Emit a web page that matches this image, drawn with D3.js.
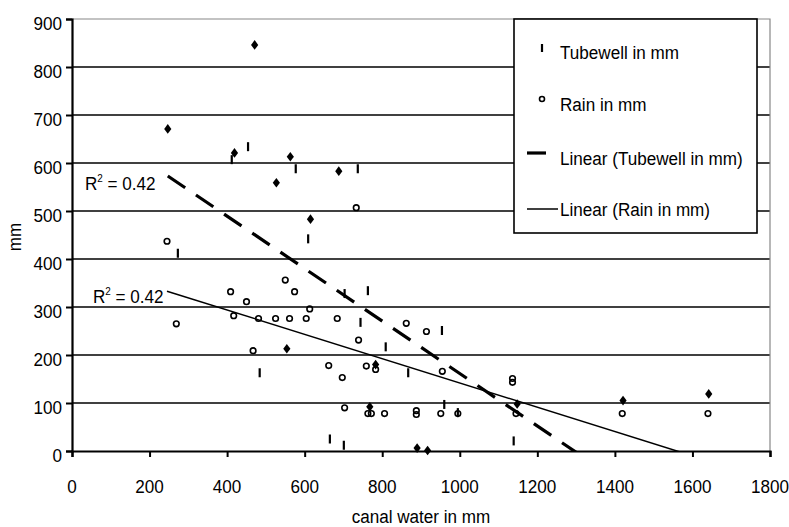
<!DOCTYPE html>
<html><head><meta charset="utf-8">
<script src="https://cdn.jsdelivr.net/npm/d3@7/dist/d3.min.js"></script>
<style>
body{margin:0;background:#fff}
svg text{font-family:"Liberation Sans",Arial,sans-serif;fill:#000}
</style></head>
<body><svg id="chart" width="789" height="527"></svg>
<script>
// ---- data ----
const xTicks = [0,200,400,600,800,1000,1200,1400,1600,1800];
const yTicks = [0,100,200,300,400,500,600,700,800,900];

const tubewellX = [273,412,454,577,609,703,737,763,744,809,867,954,960,995,484,665,701,1139];
const tubewellY = [412,607,634,588,442,328,588,334,268,217,163,251,97,80,163,25,12,21];

const rainX = [245,269,409,450,417,481,525,561,604,550,574,613,684,733,467,739,862,914,955,662,697,759,783,703,763,772,806,888,888,951,995,1136,1136,1145,1419,1640];
const rainY = [437,265,332,311,282,276,276,276,276,356,332,296,276,507,209,231,266,249,166,178,153,177,170,90,78,78,78,84,76,78,78,151,143,78,78,78];

const otherX = [471,247,419,563,527,688,615,554,783,768,890,917,1148,1421,1642];
const otherY = [846,671,621,613,559,583,483,213,180,92,6,1,98,105,119];

const trendSlope = [-0.5466,-0.2532];      // Tubewell, Rain
const trendIntercept = [708,395];
const trendXMin = [247,245];
const trendXMax = [1642,1642];
const r2Labels = ["0.42","0.42"];

const legendLabels = ["Tubewell in mm","Rain in mm","Linear (Tubewell in mm)","Linear (Rain in mm)"];
const xTitle = "canal water in mm";
const yTitle = "mm";

// ---- drawing ----
const svg = d3.select("#chart");
const L = 72, R = 770, T = 19, B = 451;
const x = d3.scaleLinear().domain([0,1800]).range([L,R]);
const y = d3.scaleLinear().domain([0,900]).range([B,T]);
const SX = 0.9, FS = 19;

function txt(g, px, py, s, anchor, fs){
  return g.append("text")
    .attr("transform", `translate(${px},${py}) scale(${SX},1)`)
    .attr("text-anchor", anchor || "start")
    .attr("font-size", fs || FS)
    .text(s);
}

svg.append("defs").append("clipPath").attr("id","plotclip")
  .append("rect").attr("x",L).attr("y",T).attr("width",R-L).attr("height",B-T);

// gridlines
svg.append("g").selectAll("line").data(yTicks.filter(v=>v>0 && v<900)).join("line")
  .attr("x1",L).attr("x2",R).attr("y1",d=>y(d)).attr("y2",d=>y(d))
  .attr("stroke","#000").attr("stroke-width",1.5);
// plot border (top/right)
svg.append("path").attr("d",`M${L},${y(900)}H${R}V${B}`).attr("fill","none")
  .attr("stroke","#888").attr("stroke-width",1.2);

// axes
const xAxis = d3.axisBottom(x).tickValues(xTicks).tickSize(6).tickFormat("");
const gx = svg.append("g").attr("transform",`translate(0,${B})`).call(xAxis);
gx.select(".domain").attr("stroke","#000").attr("stroke-width",2.2);
gx.selectAll(".tick line").attr("stroke","#000").attr("stroke-width",2);
const yAxis = d3.axisLeft(y).tickValues(yTicks).tickSize(6).tickFormat("");
const gy = svg.append("g").attr("transform",`translate(${L},0)`).call(yAxis);
gy.select(".domain").attr("stroke","#000").attr("stroke-width",2.2);
gy.selectAll(".tick line").attr("stroke","#000").attr("stroke-width",2);

const lab = svg.append("g");
xTicks.forEach(v=>txt(lab, x(v), 493, String(v), "middle"));
yTicks.forEach(v=>txt(lab, 62, y(v)+11, String(v), "end"));
txt(lab, (L+R)/2, 523, xTitle, "middle");
lab.append("text").attr("transform",`translate(21,237) rotate(-90) scale(${SX},1)`)
  .attr("text-anchor","middle").attr("font-size",FS).text(yTitle);

// markers
const mk = svg.append("g");
const diamondPath = "M0,-4.8L3.6,0L0,4.8L-3.6,0Z";
mk.selectAll("path.dia").data(otherX.map((v,i)=>[v,otherY[i]])).join("path")
  .attr("class","dia").attr("d",diamondPath)
  .attr("transform",d=>`translate(${x(d[0])},${y(d[1])})`)
  .attr("fill","#000");
mk.selectAll("circle").data(rainX.map((v,i)=>[v,rainY[i]])).join("circle")
  .attr("cx",d=>x(d[0])).attr("cy",d=>y(d[1])).attr("r",2.8)
  .attr("fill","none").attr("stroke","#000").attr("stroke-width",1.6);
mk.selectAll("line").data(tubewellX.map((v,i)=>[v,tubewellY[i]])).join("line")
  .attr("x1",d=>x(d[0])).attr("x2",d=>x(d[0]))
  .attr("y1",d=>y(d[1])-4.5).attr("y2",d=>y(d[1])+4.5)
  .attr("stroke","#000").attr("stroke-width",2.2);

// trend lines
const tg = svg.append("g").attr("clip-path","url(#plotclip)");
[0,1].forEach(i=>{
  const f = v => trendIntercept[i] + trendSlope[i]*v;
  tg.append("line")
    .attr("x1",x(trendXMin[i])).attr("y1",y(f(trendXMin[i])))
    .attr("x2",x(trendXMax[i])).attr("y2",y(f(trendXMax[i])))
    .attr("stroke","#000")
    .attr("stroke-width", i===0 ? 3.2 : 1.5)
    .attr("stroke-dasharray", i===0 ? "21,13" : null);
});

// R² labels
function r2(px, py, val){
  const t = svg.append("text").attr("transform",`translate(${px},${py}) scale(${SX},1)`).attr("font-size",FS);
  t.append("tspan").text("R");
  t.append("tspan").attr("dy",-8).attr("font-size",11).text("2");
  t.append("tspan").attr("dy",8).text(" = " + val);
}
r2(85, 190, r2Labels[0]);
r2(93, 303, r2Labels[1]);

// legend
const lg = svg.append("g");
lg.append("rect").attr("x",514).attr("y",19).attr("width",243).attr("height",214)
  .attr("fill","#fff").attr("stroke","#000").attr("stroke-width",1.6);
const rowY = [52,104,158,209];
lg.append("line").attr("x1",542).attr("x2",542).attr("y1",rowY[0]-8).attr("y2",rowY[0])
  .attr("stroke","#000").attr("stroke-width",2.2);
lg.append("circle").attr("cx",542).attr("cy",rowY[1]-5).attr("r",2.5)
  .attr("fill","none").attr("stroke","#000").attr("stroke-width",1.6);
lg.append("line").attr("x1",527).attr("x2",546).attr("y1",rowY[2]-5).attr("y2",rowY[2]-5)
  .attr("stroke","#000").attr("stroke-width",3.2);
lg.append("line").attr("x1",527).attr("x2",558).attr("y1",rowY[3]).attr("y2",rowY[3])
  .attr("stroke","#000").attr("stroke-width",1.5);
legendLabels.forEach((s,i)=>txt(lg, 560, rowY[i]+7, s, "start"));
</script></body></html>
